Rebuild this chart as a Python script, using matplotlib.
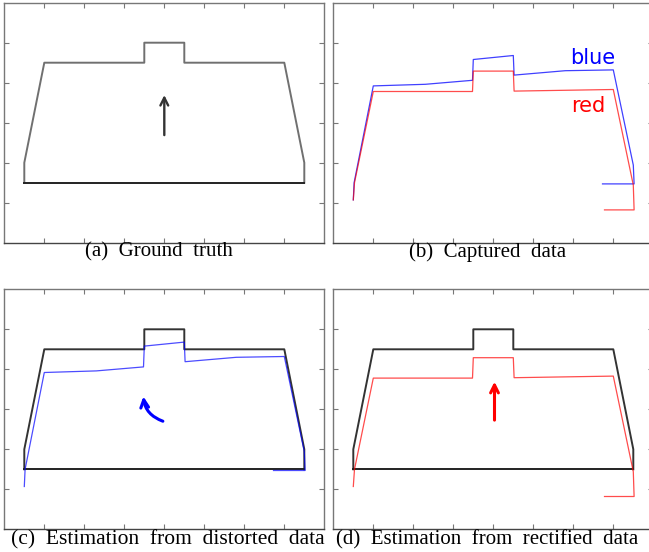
import matplotlib.pyplot as plt
from matplotlib.patches import FancyArrowPatch

# outline of the object (ground truth)
shape_x = [0.5, 0.5, 1.0, 3.5, 3.5, 4.5, 4.5, 7.0, 7.5, 7.5]
shape_y = [1.5, 2.0, 4.5, 4.5, 5.0, 5.0, 4.5, 4.5, 2.0, 1.5]

# captured data, blue channel
blue_x = [0.5, 0.52, 1.0, 2.3, 3.48, 3.5, 4.5, 4.52, 5.8, 7.0, 7.5, 7.52, 6.73]
blue_y = [1.07, 1.5, 3.92, 3.96, 4.06, 4.58, 4.68, 4.19, 4.30, 4.32, 1.94, 1.47, 1.47]

# captured data, red channel
red_x = [0.5, 0.53, 1.0, 3.48, 3.5, 4.5, 4.52, 7.0, 7.5, 7.52, 6.78]
red_y = [1.07, 1.5, 3.78, 3.78, 4.29, 4.29, 3.79, 3.83, 1.44, 0.82, 0.82]

captions = ["(a)  Ground  truth", "(b)  Captured  data",
            "(c)  Estimation  from  distorted  data",
            "(d)  Estimation  from  rectified  data"]

W, H = 649, 552
fig = plt.figure(figsize=(W / 100, H / 100), dpi=100)


def make_axes(left, top):
    ax = fig.add_axes([left / W, 1 - (top + 240) / H, 320 / W, 240 / H])
    ax.set_xlim(0, 8)
    ax.set_ylim(0, 6)
    ax.set_xticks(range(1, 8))
    ax.set_yticks(range(1, 6))
    ax.set_xticklabels([])
    ax.set_yticklabels([])
    ax.tick_params(direction="in", length=3.5, width=0.8, color="#777777",
                   top=True, right=True)
    for s in ax.spines.values():
        s.set_color("#777777")
        s.set_linewidth(1.0)
    ax.spines["bottom"].set_color("#444444")
    return ax


def draw_shape(ax, color):
    ax.plot(shape_x, shape_y, color=color, lw=1.4)
    ax.plot([shape_x[-1], shape_x[0]], [shape_y[-1], shape_y[0]],
            color="#222222", lw=1.4)


ax_a = make_axes(4.3, 2.7)
ax_b = make_axes(333.3, 2.7)
ax_c = make_axes(4.3, 289.3)
ax_d = make_axes(333.3, 289.3)

# (a) ground truth
draw_shape(ax_a, "#707070")
ax_a.annotate("", xy=(4.0, 3.76), xytext=(4.0, 2.62),
              arrowprops=dict(arrowstyle="->", color="#333333", lw=1.7,
                              mutation_scale=14))

# (b) captured data
ax_b.plot(blue_x, blue_y, color="blue", lw=0.9, alpha=0.75)
ax_b.plot(red_x, red_y, color="red", lw=0.9, alpha=0.7)
ax_b.text(6.48, 4.61, "blue", color="blue", fontsize=15,
          ha="center", va="center")
ax_b.text(6.38, 3.42, "red", color="red", fontsize=15,
          ha="center", va="center")

# (c) estimation from distorted data
draw_shape(ax_c, "#333333")
ax_c.plot(blue_x, blue_y, color="blue", lw=0.9, alpha=0.7)
ax_c.add_patch(FancyArrowPatch((4.03, 2.68), (3.47, 3.39),
                               connectionstyle="arc3,rad=-0.35",
                               arrowstyle="->", color="blue", lw=2.2,
                               mutation_scale=14))

# (d) estimation from rectified data
draw_shape(ax_d, "#333333")
ax_d.plot(red_x, red_y, color="red", lw=0.9, alpha=0.7)
ax_d.annotate("", xy=(4.03, 3.76), xytext=(4.03, 2.66),
              arrowprops=dict(arrowstyle="->", color="red", lw=2.2,
                              mutation_scale=14))

cap_pos = [(158.5, 252), (488, 252), (167.5, 540), (487.5, 540)]
cap_size = [15, 15, 15.5, 15]
for (cx, cy), txt, fs in zip(cap_pos, captions, cap_size):
    fig.text(cx / W, 1 - cy / H, txt, family="Liberation Serif",
             fontsize=fs, ha="center", va="center")

fig.savefig("out.png", dpi=100)
